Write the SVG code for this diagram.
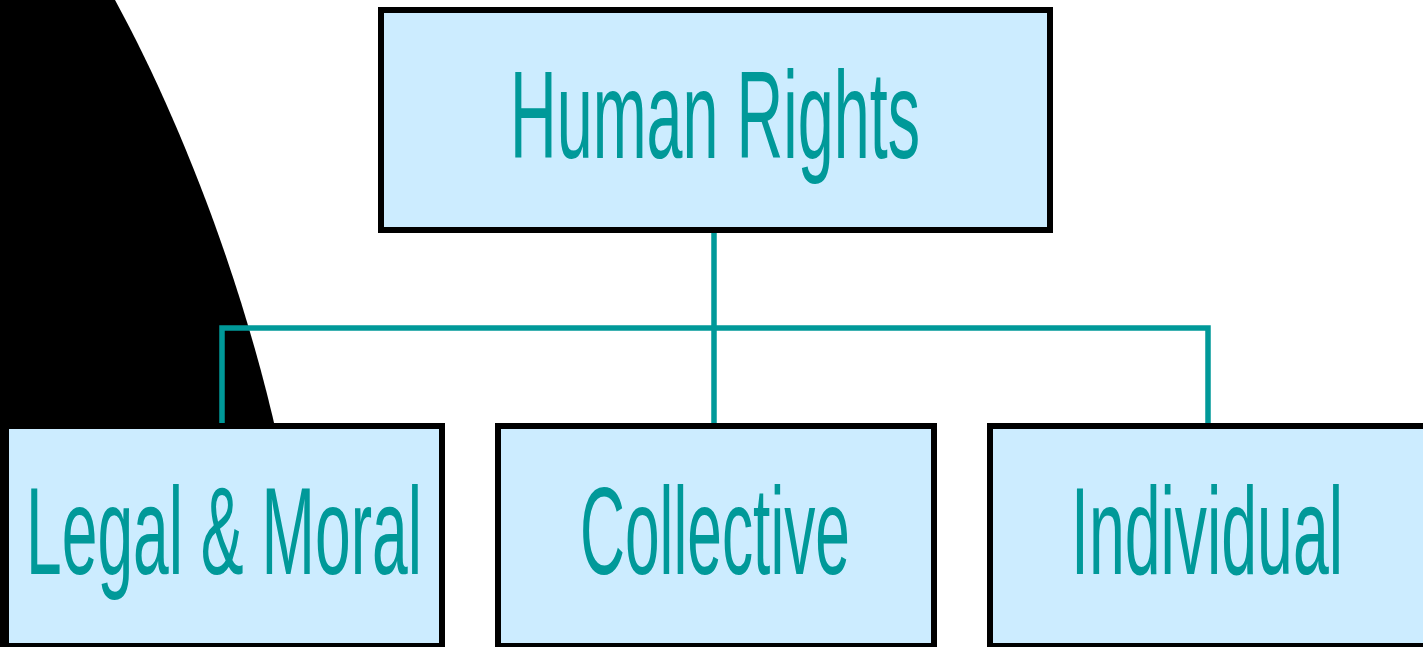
<svg xmlns="http://www.w3.org/2000/svg" width="1423" height="647" viewBox="0 0 1423 647">
<style>
.box{fill:#CCECFF;stroke:#000;stroke-width:6;stroke-linejoin:miter}
.lbl{font-family:"Liberation Sans",Arial,sans-serif;font-size:124px;fill:#009999;text-anchor:middle}
.conn{fill:none;stroke:#009999;stroke-width:5.5;stroke-linejoin:miter}
</style>
<rect x="0" y="0" width="1423" height="647" fill="#fff"/>
<path id="backdrop" d="M0,0 L115,0 C175,110 240,270 278,440 L278,647 L0,647 Z" fill="#000"/>
<g id="connectors">
<path class="conn" d="M714,233 L714,423"/>
<path class="conn" d="M222,423 L222,328 L1208,328 L1208,423"/>
</g>
<g id="node-human-rights">
<rect class="box" x="381" y="10" width="669" height="220"/>
<text class="lbl" x="715" y="158" textLength="410" lengthAdjust="spacingAndGlyphs">Human Rights</text>
</g>
<g id="node-legal-moral">
<rect class="box" x="6" y="426" width="436" height="220"/>
<text class="lbl" x="224" y="574" textLength="396" lengthAdjust="spacingAndGlyphs">Legal &amp; Moral</text>
</g>
<g id="node-collective">
<rect class="box" x="498" y="426" width="436" height="220"/>
<text class="lbl" x="715" y="574" textLength="270" lengthAdjust="spacingAndGlyphs">Collective</text>
</g>
<g id="node-individual">
<rect class="box" x="990" y="426" width="436" height="220"/>
<text class="lbl" x="1207" y="574" textLength="272" lengthAdjust="spacingAndGlyphs">Individual</text>
</g>
</svg>
